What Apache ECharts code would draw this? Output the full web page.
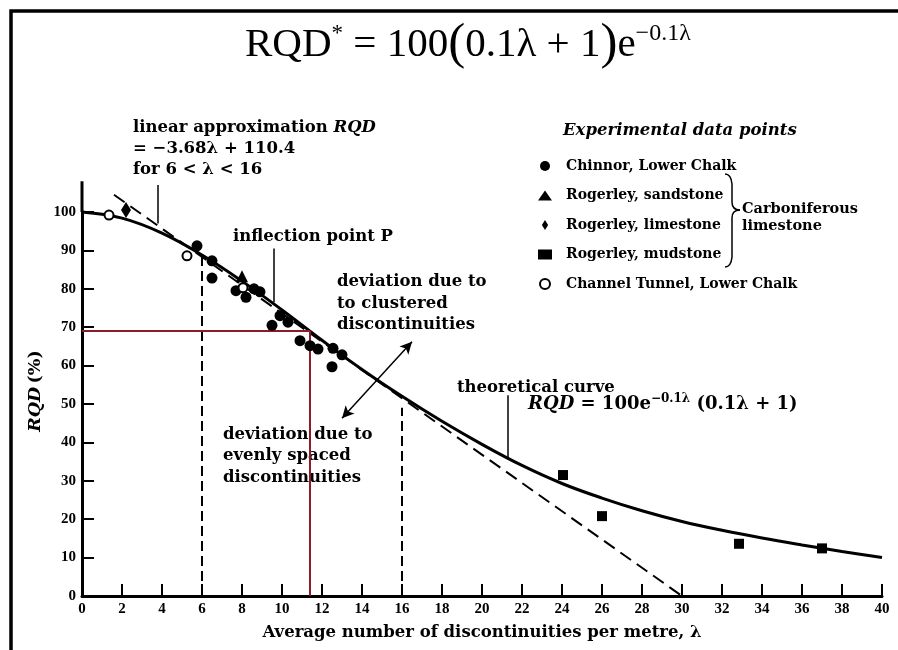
<!DOCTYPE html>
<html><head><meta charset="utf-8">
<script src="https://cdn.jsdelivr.net/npm/echarts@6/dist/echarts.min.js"></script>
<style>html,body{margin:0;padding:0;background:#fff}#c{width:898px;height:650px}</style>
</head><body><div id="c"></div>
<script>
// ---- data ----
const curveLambda = [0,2,4,6,8,10,12,14,16,18,20,22,24,26,28,30,32,34,36,38,40];
const curveRQD    = [100,98.4,94.5,88.8,82,74.5,66.6,59,52,45.5,39.5,34,29.3,25.5,22.2,19.4,17.1,15.1,13.3,11.6,10];
const linearLambda = [1.6, 30];
const linearRQD    = [104.5, 0];
const chinnorLambda = [5.75,6.5,6.5,7.7,8.2,8.6,8.9,9.5,9.9,10.3,10.9,11.4,11.8,12.55,13.0,12.5];
const chinnorRQD    = [91.2,87.3,82.8,79.5,77.8,80.0,79.2,70.5,73.0,71.3,66.5,65.2,64.3,64.5,62.8,59.7];
const sandLambda = [8.0];
const sandRQD    = [83.3];
const limeLambda = [2.2];
const limeRQD    = [100.5];
const mudLambda = [24.05,26.0,32.85,37.0];
const mudRQD    = [31.5,20.8,13.6,12.4];
const tunnelLambda = [1.35,5.25,8.05];
const tunnelRQD    = [99.2,88.6,80.3];
const boundLambda = [6, 16];
const boundTopRQD = [89.5, 49];
const readLambda = 11.4;
const readRQD = 69;
const xTickValues = [0,2,4,6,8,10,12,14,16,18,20,22,24,26,28,30,32,34,36,38,40];
const yTickValues = [0,10,20,30,40,50,60,70,80,90,100];

const zip = (a,b) => a.map((v,i)=>[v,b[i]]);
const BOLD = 'DejaVu Serif';
const TNR = 'Liberation Serif';
const FS = 16.5;
const lbl = (t, fs) => ({fontFamily: BOLD, fontWeight:'bold', fontSize: fs || FS, fill:'#000', text:t, textVerticalAlign:'middle'});

const chart = echarts.init(document.getElementById('c'), null, {renderer:'canvas'});
const blackLine = (w) => ({color:'#000', width:w, type:'solid'});
const solidBlack = {color:'#000', opacity:1};

const option = {
  animation:false,
  backgroundColor:'#fff',
  grid:{left:82,right:16,top:212,bottom:54,containLabel:false},
  xAxis:{type:'value',min:xTickValues[0],max:xTickValues[xTickValues.length-1],interval:2,
    splitLine:{show:false},
    axisLine:{lineStyle:{color:'#000',width:3}},
    axisTick:{inside:true,length:12,lineStyle:{color:'#000',width:2}},
    axisLabel:{color:'#000',fontFamily:TNR,fontWeight:'bold',fontSize:15,margin:6},
    name:'Average number of discontinuities per metre, λ',nameLocation:'middle',nameGap:28,
    nameTextStyle:{color:'#000',fontFamily:BOLD,fontWeight:'bold',fontSize:16.5}},
  yAxis:{type:'value',min:yTickValues[0],max:yTickValues[yTickValues.length-1],interval:10,
    splitLine:{show:false},
    axisLine:{show:true,lineStyle:{color:'#000',width:3}},
    axisTick:{show:true,inside:true,length:12,lineStyle:{color:'#000',width:2}},
    axisLabel:{color:'#000',fontFamily:TNR,fontWeight:'bold',fontSize:15,margin:6}},
  legend:{orient:'vertical',left:533,top:153,itemWidth:14,itemHeight:10,itemGap:13.5,
    textStyle:{color:'#000',fontFamily:BOLD,fontWeight:'bold',fontSize:14,lineHeight:16,padding:[0,0,0,9]},
    data:['Chinnor, Lower Chalk','Rogerley, sandstone',
      {name:'Rogerley, limestone',icon:'path://M5,0 L10,8 L5,16 L0,8 Z'},
      'Rogerley, mudstone','Channel Tunnel, Lower Chalk']},
  series:[
    {type:'line',name:'theoretical',data:zip(curveLambda,curveRQD),smooth:0.4,symbol:'none',clip:false,
      lineStyle:blackLine(3),z:3,silent:true},
    {type:'line',name:'axisExt',data:[[0,100],[0,108]],symbol:'none',clip:false,lineStyle:blackLine(3),silent:true},
    {type:'line',name:'linear',data:zip(linearLambda,linearRQD),symbol:'none',clip:false,
      lineStyle:{color:'#000',width:2,type:[13,7]},silent:true},
    {type:'line',name:'b6',data:[[boundLambda[0],0],[boundLambda[0],boundTopRQD[0]]],symbol:'none',
      lineStyle:{color:'#000',width:2,type:[10,5]},silent:true},
    {type:'line',name:'b16',data:[[boundLambda[1],0],[boundLambda[1],boundTopRQD[1]]],symbol:'none',
      lineStyle:{color:'#000',width:2,type:[10,5]},silent:true},
    {type:'line',name:'red',data:[[0,readRQD],[readLambda,readRQD],[readLambda,0]],symbol:'none',
      lineStyle:{color:'#8a1c2c',width:2},z:4,silent:true},
    {type:'line',name:'ptr1',data:[[3.8,107],[3.8,97]],symbol:'none',clip:false,lineStyle:blackLine(1.5),silent:true},
    {type:'line',name:'ptr2',data:[[9.6,90.5],[9.6,76.5]],symbol:'none',lineStyle:blackLine(1.5),silent:true},
    {type:'line',name:'ptr3',data:[[21.3,52.3],[21.3,36.2]],symbol:'none',lineStyle:blackLine(1.5),silent:true},
    {type:'line',name:'arrow',data:[[16.5,66.2],[13.0,46.3]],symbol:'none',lineStyle:blackLine(1.5),silent:true,
      markPoint:{silent:true,label:{show:false},itemStyle:{color:'#000',opacity:1},
        data:[{coord:[16.5,66.2],symbol:'arrow',symbolSize:[9,12],symbolRotate:-(90-Math.atan2(19.9*3.84,3.5*20)*180/Math.PI)},
              {coord:[13.0,46.3],symbol:'arrow',symbolSize:[9,12],symbolRotate:180-(90-Math.atan2(19.9*3.84,3.5*20)*180/Math.PI)}]}},
    {type:'scatter',name:'Chinnor, Lower Chalk',data:zip(chinnorLambda,chinnorRQD),symbol:'circle',symbolSize:11,
      itemStyle:solidBlack,clip:false,z:5},
    {type:'scatter',name:'Rogerley, sandstone',data:zip(sandLambda,sandRQD),symbol:'triangle',symbolSize:12,
      itemStyle:solidBlack,clip:false,z:5},
    {type:'scatter',name:'Rogerley, limestone',data:zip(limeLambda,limeRQD),symbol:'diamond',symbolSize:[10,16],
      itemStyle:solidBlack,clip:false,z:5},
    {type:'scatter',name:'Rogerley, mudstone',data:zip(mudLambda,mudRQD),symbol:'rect',symbolSize:10,
      itemStyle:solidBlack,clip:false,z:5},
    {type:'scatter',name:'Channel Tunnel, Lower Chalk',data:zip(tunnelLambda,tunnelRQD),symbol:'circle',symbolSize:9,
      itemStyle:{color:'#fff',borderColor:'#000',borderWidth:2,opacity:1},clip:false,z:6}
  ],
  graphic:[
    {type:'rect',shape:{x:11,y:11,width:900,height:660},style:{fill:null,stroke:'#000',lineWidth:3.5},silent:true},
    {type:'text',x:245,y:45,silent:true,style:{
      text:'{m|RQD}{s|*}{m| = 100}{p|(}{m|0.1λ + 1}{p|)}{m|e}{s2|−0.1λ}',
      textVerticalAlign:'middle',
      rich:{m:{fontFamily:TNR,fontSize:41,lineHeight:46,fill:'#000'},
            p:{fontFamily:TNR,fontSize:51,lineHeight:46,fill:'#000'},
            s:{fontFamily:TNR,fontSize:23,lineHeight:23,verticalAlign:'top',fill:'#000'},
            s2:{fontFamily:TNR,fontSize:24,lineHeight:23,verticalAlign:'top',fill:'#000'}}}},
    {type:'text',x:133,y:128,silent:true,style:{text:'{b|linear approximation }{i|RQD}',textVerticalAlign:'middle',
      rich:{b:{fontFamily:BOLD,fontWeight:'bold',fontSize:FS,fill:'#000'},i:{fontFamily:BOLD,fontWeight:'bold',fontStyle:'italic',fontSize:FS,fill:'#000'}}}},
    {type:'text',x:133,y:149,silent:true,style:lbl('= −3.68λ + 110.4')},
    {type:'text',x:133,y:170,silent:true,style:lbl('for 6 < λ < 16')},
    {type:'text',x:233,y:237,silent:true,style:lbl('inflection point P')},
    {type:'text',x:337,y:282,silent:true,style:lbl('deviation due to')},
    {type:'text',x:337,y:304,silent:true,style:lbl('to clustered')},
    {type:'text',x:337,y:325,silent:true,style:lbl('discontinuities')},
    {type:'text',x:223,y:435,silent:true,style:lbl('deviation due to')},
    {type:'text',x:223,y:456,silent:true,style:lbl('evenly spaced')},
    {type:'text',x:223,y:478,silent:true,style:lbl('discontinuities')},
    {type:'text',x:457,y:388,silent:true,style:lbl('theoretical curve')},
    {type:'text',x:528,y:404,silent:true,style:{text:'{i|RQD}{b| = 100e}{s|−0.1λ}{b| (0.1λ + 1)}',textVerticalAlign:'middle',
      rich:{b:{fontFamily:BOLD,fontWeight:'bold',fontSize:18,lineHeight:22,fill:'#000'},
            i:{fontFamily:BOLD,fontWeight:'bold',fontStyle:'italic',fontSize:18,lineHeight:22,fill:'#000'},
            s:{fontFamily:BOLD,fontWeight:'bold',fontSize:12,lineHeight:14,verticalAlign:'top',fill:'#000'}}}},
    {type:'text',x:563,y:131,silent:true,style:{text:'Experimental data points',textVerticalAlign:'middle',
      fontFamily:BOLD,fontWeight:'bold',fontStyle:'italic',fontSize:16.5,fill:'#000'}},
    {type:'bezierCurve',silent:true,shape:{x1:725,y1:174,x2:732,y2:184,cpx1:731,cpy1:174},style:{stroke:'#000',lineWidth:1.5,fill:null}},
    {type:'line',silent:true,shape:{x1:732,y1:184,x2:732,y2:202},style:{stroke:'#000',lineWidth:1.5}},
    {type:'bezierCurve',silent:true,shape:{x1:732,y1:202,x2:740,y2:210,cpx1:732,cpy1:210},style:{stroke:'#000',lineWidth:1.5,fill:null}},
    {type:'bezierCurve',silent:true,shape:{x1:740,y1:210,x2:732,y2:218,cpx1:732,cpy1:210},style:{stroke:'#000',lineWidth:1.5,fill:null}},
    {type:'line',silent:true,shape:{x1:732,y1:218,x2:732,y2:257},style:{stroke:'#000',lineWidth:1.5}},
    {type:'bezierCurve',silent:true,shape:{x1:732,y1:257,x2:725,y2:267,cpx1:731,cpy1:267},style:{stroke:'#000',lineWidth:1.5,fill:null}},
    {type:'text',x:742,y:209,silent:true,style:lbl('Carboniferous',14.5)},
    {type:'text',x:742,y:226,silent:true,style:lbl('limestone',14.5)},
    {type:'text',x:35,y:391,rotation:Math.PI/2,silent:true,style:{text:'{i|RQD} {b|(%)}',textAlign:'center',textVerticalAlign:'middle',
      rich:{i:{fontFamily:BOLD,fontWeight:'bold',fontStyle:'italic',fontSize:17.5,fill:'#000'},b:{fontFamily:BOLD,fontWeight:'bold',fontSize:17.5,fill:'#000'}}}}
  ]
};
chart.setOption(option);
</script></body></html>
